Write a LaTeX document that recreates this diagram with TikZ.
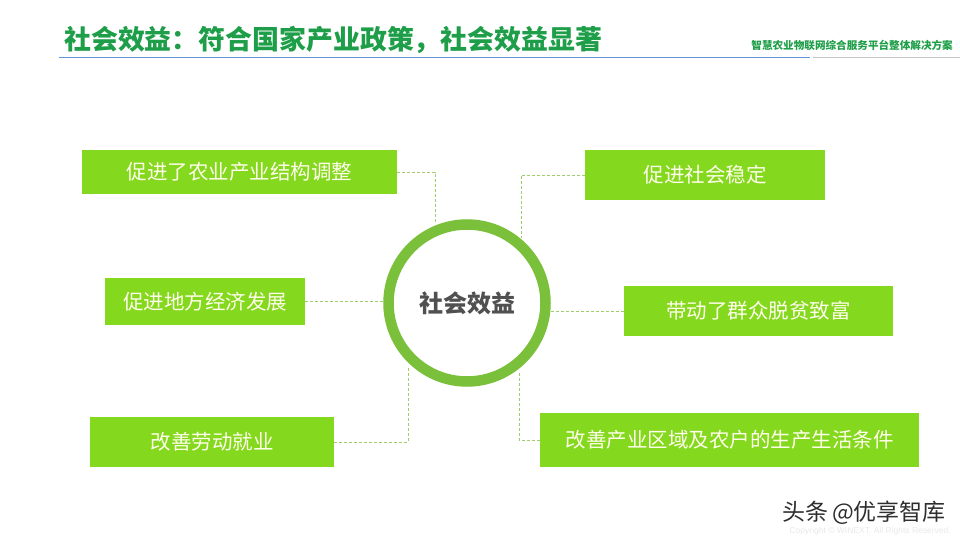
\documentclass[tikz,border=0pt]{standalone}
\usepackage{fontspec}
\setmainfont{Noto Sans CJK SC}
\setsansfont{Liberation Sans}
\usepackage{tikz}
\usetikzlibrary{positioning}

\definecolor{titlegreen}{RGB}{30,158,72}
\definecolor{ringgreen}{RGB}{122,192,58}
\definecolor{boxgreen}{RGB}{132,216,30}
\definecolor{linkgreen}{RGB}{160,204,110}
\definecolor{rulelblue}{RGB}{96,150,214}
\definecolor{centergray}{RGB}{80,80,80}

\begin{document}
\begin{tikzpicture}[
  x=1pt, y=-1pt,
  every node/.style={inner sep=0pt},
  benefit/.style={fill=boxgreen, text=white!92!yellow, align=center, font=\fontsize{20.5}{24}\selectfont},
  link/.style={draw=linkgreen, line width=0.9pt, dash pattern=on 3pt off 2pt},
]
\useasboundingbox (0,0) rectangle (960,540);

\node[anchor=west, text=titlegreen, font=\fontsize{26.9}{30}\selectfont\bfseries] (title) at (64,40) {社会效益：符合国家产业政策，社会效益显著};
\node[anchor=east, text=titlegreen, font=\fontsize{10.6}{12}\selectfont\bfseries] (subtitle) at (953,45) {智慧农业物联网综合服务平台整体解决方案};
\draw[rulelblue, line width=1pt] (59,57.5) -- (810,57.5);
\draw[gray!45, line width=1.5pt] (813,57.5) -- (960,57.5);

\node[circle, draw=ringgreen, line width=10.5pt, minimum size=157pt, fill=white] (hub) at (467,303) {};
\node[text=centergray, font=\fontsize{24}{28}\selectfont\bfseries] (hubtext) at (hub.center) {社会效益};

\node[benefit, minimum width=315pt, minimum height=44pt] (b1) at (239.5,172) {促进了农业产业结构调整};
\node[benefit, minimum width=200pt, minimum height=47pt] (b2) at (205,301.5) {促进地方经济发展};
\node[benefit, minimum width=244pt, minimum height=50pt] (b3) at (212,442) {改善劳动就业};
\node[benefit, minimum width=240pt, minimum height=50pt] (b4) at (705,175) {促进社会稳定};
\node[benefit, minimum width=269pt, minimum height=50pt] (b5) at (758.5,311) {带动了群众脱贫致富};
\node[benefit, minimum width=379pt, minimum height=54pt] (b6) at (729.5,440) {改善产业区域及农户的生产生活条件};

\coordinate (k1) at (435,222);
\coordinate (k4) at (521,238);
\coordinate (k3) at (408,367);
\coordinate (k6) at (519,372);

\draw[link] (b1.east) -| (k1);
\draw[link] (b4.west) -| (k4);
\draw[link] (b2.east) -- (b2.east -| hub.west);
\draw[link] (hub.east |- b5.west) -- (b5.west);
\draw[link] (b3.east) -| (k3);
\draw[link] (b6.west) -| (k6);

\node[anchor=east, text=black!82, font=\fontsize{23}{26}\selectfont] (mark) at (946,513) {头条\hspace{4pt}@优享智库};
\node[anchor=east, text=gray!18, font=\sffamily\fontsize{8.5}{10}\selectfont] (copy) at (951,531) {Copyright © WINEXT. All Rights Reserved.};
\end{tikzpicture}
\end{document}
